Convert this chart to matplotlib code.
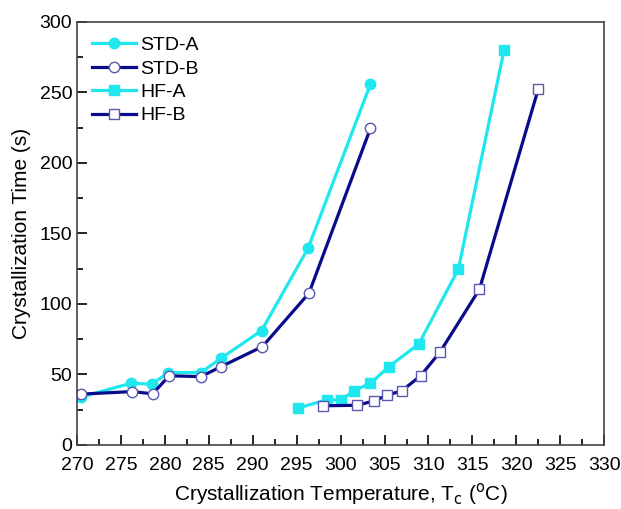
import matplotlib
matplotlib.use("Agg")
import matplotlib.pyplot as plt
from matplotlib.ticker import MultipleLocator

plt.rcParams['font.family'] = ['Liberation Sans', 'DejaVu Sans']

# data
std_a_t = [270.5, 276.2, 278.5, 280.4, 284.1, 286.4, 291.0, 296.3, 303.4]
std_a_y = [34, 43.8, 43, 51.3, 51.3, 61.5, 81, 139.5, 256]
std_b_t = [270.5, 276.3, 278.6, 280.5, 284.1, 286.4, 291.1, 296.4, 303.4]
std_b_y = [36, 37.8, 36.2, 49, 48.4, 55.5, 69.7, 107.6, 224.6]
hf_a_t = [295.1, 298.4, 300.1, 301.5, 303.4, 305.5, 308.9, 313.4, 318.6]
hf_a_y = [26, 31.9, 31.9, 38.3, 43.7, 55.5, 71.6, 124.6, 280]
hf_b_t = [298.0, 301.9, 303.8, 305.3, 307.0, 309.1, 311.3, 315.8, 322.5]
hf_b_y = [27.7, 28.1, 31.2, 35.2, 38.5, 49, 65.7, 110.4, 252.5]

cyan = '#1ee8ee'
navy = '#0a0a8c'
edge = '#5a58b0'

fig = plt.figure(figsize=(6.21, 5.09), dpi=100)
ax = fig.add_axes([0.124, 0.126, 0.849, 0.831])

ax.plot(std_a_t, std_a_y, '-o', color=cyan, lw=2.3, ms=7.5, label='STD-A')
ax.plot(std_b_t, std_b_y, '-o', color=navy, lw=2.3, ms=7.5, mfc='white',
        mec=edge, mew=1.0, label='STD-B')
ax.plot(hf_a_t, hf_a_y, '-s', color=cyan, lw=2.3, ms=6.5, label='HF-A')
ax.plot(hf_b_t, hf_b_y, '-s', color=navy, lw=2.3, ms=7, mfc='white',
        mec=edge, mew=1.0, label='HF-B')

ax.set_xlim(270, 330)
ax.set_ylim(0, 300)
ax.xaxis.set_major_locator(MultipleLocator(5))
ax.xaxis.set_minor_locator(MultipleLocator(2.5))
ax.yaxis.set_major_locator(MultipleLocator(50))
ax.yaxis.set_minor_locator(MultipleLocator(25))
ax.tick_params(which='both', direction='in', labelsize=14, top=False, right=False)
ax.tick_params(axis='x', pad=9)
ax.tick_params(which='major', length=7, width=1.2)
ax.tick_params(which='minor', length=4, width=1.2)
for s in ax.spines.values():
    s.set_color('#444444')
    s.set_linewidth(1.2)

ax.set_xlabel(r'Crystallization Temperature, T$_\mathrm{c}$ ($^\mathrm{o}$C)',
              fontsize=15, labelpad=5)
ax.set_ylabel('Crystallization Time (s)', fontsize=15, labelpad=6)

ax.legend(loc='upper left', frameon=False, fontsize=14, handlelength=2.3,
          handletextpad=0.2, labelspacing=0.3, borderaxespad=0.35)

fig.savefig('out.png', dpi=100)
